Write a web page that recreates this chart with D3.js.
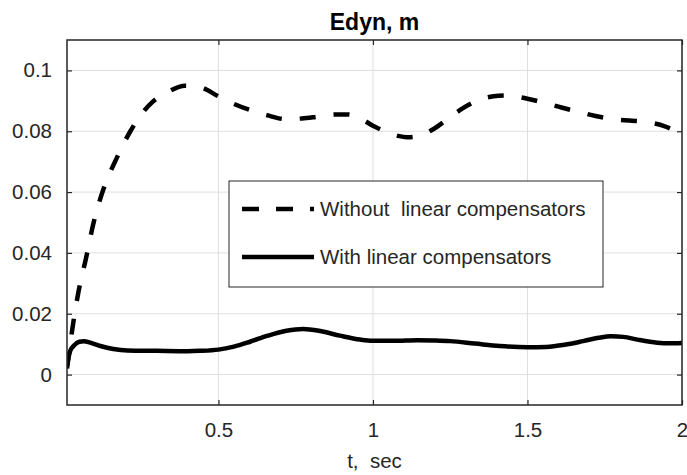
<!DOCTYPE html>
<html>
<head>
<meta charset="utf-8">
<script src="https://cdn.jsdelivr.net/npm/d3@7"></script>
<style>
  html, body { margin: 0; padding: 0; background: #fff; }
  svg { display: block; font-family: "Liberation Sans", Arial, sans-serif; }
</style>
</head>
<body>
<script>
// data
const tWithout = [0.01, 0.029, 0.048, 0.071, 0.095, 0.128, 0.17, 0.215, 0.25, 0.286, 0.33, 0.392, 0.44, 0.5, 0.55, 0.602, 0.66, 0.716, 0.77, 0.822, 0.88, 0.92, 0.96, 1.0, 1.033, 1.08, 1.11, 1.145, 1.2, 1.239, 1.29, 1.336, 1.39, 1.43, 1.449, 1.5, 1.556, 1.61, 1.669, 1.72, 1.776, 1.83, 1.889, 1.94, 2.0];
const eWithout = [0.002, 0.0162, 0.0277, 0.038, 0.0495, 0.061, 0.071, 0.080, 0.0855, 0.0896, 0.0925, 0.095, 0.0945, 0.0915, 0.089, 0.087, 0.0852, 0.084, 0.0842, 0.0848, 0.0855, 0.0855, 0.0842, 0.0818, 0.0802, 0.0785, 0.078, 0.0783, 0.081, 0.0838, 0.0875, 0.09, 0.0915, 0.0918, 0.0916, 0.0907, 0.0893, 0.0878, 0.0863, 0.085, 0.084, 0.0835, 0.083, 0.0818, 0.079];

const tWith = [0.01, 0.02, 0.035, 0.05, 0.065, 0.085, 0.118, 0.16, 0.205, 0.3, 0.4, 0.44, 0.5, 0.55, 0.602, 0.66, 0.72, 0.774, 0.83, 0.893, 0.958, 1.0, 1.07, 1.142, 1.2, 1.25, 1.33, 1.41, 1.5, 1.56, 1.62, 1.68, 1.73, 1.77, 1.81, 1.86, 1.92, 1.96, 2.0];
const eWith = [0.0028, 0.0077, 0.0098, 0.0108, 0.011, 0.0105, 0.0094, 0.0084, 0.0079, 0.0078, 0.0077, 0.0078, 0.0082, 0.0092, 0.0108, 0.0128, 0.0144, 0.015, 0.0143, 0.0128, 0.0115, 0.0111, 0.0111, 0.0113, 0.0112, 0.011, 0.0102, 0.0094, 0.009, 0.0091, 0.0098, 0.011, 0.0121, 0.0126, 0.0124, 0.0114, 0.0105, 0.0103, 0.0104];

const xTicks = [0.5, 1, 1.5, 2];
const yTicks = [0, 0.02, 0.04, 0.06, 0.08, 0.1];
const legendLabels = ['Without  linear compensators', 'With linear compensators'];

const width = 687;
const height = 475;
const plotLeft = 67, plotRight = 682, plotTop = 40, plotBottom = 405;

const svg = d3.select('body').append('svg')
    .attr('width', width)
    .attr('height', height);

const xScale = d3.scaleLinear().domain([0.01, 2]).range([plotLeft, plotRight]);
const yScale = d3.scaleLinear().domain([-0.01, 0.11]).range([plotBottom, plotTop]);

// Grid
const grid = svg.append('g').classed('grid', true);
grid.selectAll('line.gx')
    .data(xTicks)
    .enter()
    .append('line')
    .attr('x1', d => xScale(d)).attr('x2', d => xScale(d))
    .attr('y1', plotTop).attr('y2', plotBottom)
    .attr('stroke', '#dfdfdf').attr('stroke-width', 1);
grid.selectAll('line.gy')
    .data(yTicks)
    .enter()
    .append('line')
    .attr('x1', plotLeft).attr('x2', plotRight)
    .attr('y1', d => yScale(d)).attr('y2', d => yScale(d))
    .attr('stroke', '#dfdfdf').attr('stroke-width', 1);

// Lines
const toPts = (ts, es) => ts.map((t, i) => ({ t: t, e: es[i] }));
const line = d3.line()
    .x(d => xScale(d.t))
    .y(d => yScale(d.e))
    .curve(d3.curveMonotoneX);

svg.append('clipPath').attr('id', 'plotclip')
    .append('rect').attr('x', plotLeft).attr('y', plotTop)
    .attr('width', plotRight - plotLeft).attr('height', plotBottom - plotTop);

const plot = svg.append('g').attr('clip-path', 'url(#plotclip)');

plot.append('path')
    .datum(toPts(tWithout, eWithout))
    .attr('fill', 'none')
    .attr('stroke', '#000')
    .attr('stroke-width', 4.5)
    .attr('stroke-dasharray', '16 18')
    .attr('d', line);

plot.append('path')
    .datum(toPts(tWith, eWith))
    .attr('fill', 'none')
    .attr('stroke', '#000')
    .attr('stroke-width', 4.5)
    .attr('d', line);

// Axes (box with inward ticks on all sides)
const tickLen = 5;
const axisColor = '#262626';

svg.append('g')
    .attr('transform', `translate(0,${plotBottom})`)
    .call(d3.axisBottom(xScale).tickValues(xTicks).tickSizeInner(-tickLen).tickSizeOuter(0).tickPadding(17).tickFormat(d3.format('')))
    .call(g => g.select('.domain').remove());
svg.append('g')
    .attr('transform', `translate(0,${plotTop})`)
    .call(d3.axisTop(xScale).tickValues(xTicks).tickSizeInner(-tickLen).tickSizeOuter(0).tickFormat(''))
    .call(g => g.select('.domain').remove());
svg.append('g')
    .attr('transform', `translate(${plotLeft},0)`)
    .call(d3.axisLeft(yScale).tickValues(yTicks).tickSizeInner(-tickLen).tickSizeOuter(0).tickPadding(15).tickFormat(d3.format('')))
    .call(g => g.select('.domain').remove());
svg.append('g')
    .attr('transform', `translate(${plotRight},0)`)
    .call(d3.axisRight(yScale).tickValues(yTicks).tickSizeInner(-tickLen).tickSizeOuter(0).tickFormat(''))
    .call(g => g.select('.domain').remove());

svg.selectAll('.tick line').attr('stroke', axisColor).attr('stroke-width', 1.2);
svg.selectAll('.tick text')
    .attr('fill', '#262626')
    .style('font-size', '20.5px')
    .style('font-family', '"Liberation Sans", Arial, sans-serif');

svg.append('rect')
    .attr('x', plotLeft).attr('y', plotTop)
    .attr('width', plotRight - plotLeft).attr('height', plotBottom - plotTop)
    .attr('fill', 'none')
    .attr('stroke', axisColor)
    .attr('stroke-width', 1.5);

// Title and label
svg.append('text')
    .attr('x', (plotLeft + plotRight) / 2)
    .attr('y', 30)
    .attr('text-anchor', 'middle')
    .style('font-size', '23px')
    .style('font-weight', 'bold')
    .attr('fill', '#000')
    .text('Edyn, m');

svg.append('text')
    .attr('x', (plotLeft + plotRight) / 2)
    .attr('y', 468)
    .attr('text-anchor', 'middle')
    .style('font-size', '20.5px')
    .style('white-space', 'pre')
    .attr('fill', '#262626')
    .text('t,  sec');

// Legend
const legend = svg.append('g').classed('legend', true);
legend.append('rect')
    .attr('x', 229).attr('y', 181)
    .attr('width', 374).attr('height', 106)
    .attr('fill', '#fff')
    .attr('stroke', axisColor)
    .attr('stroke-width', 1);

const legRows = legend.selectAll('g.row')
    .data(legendLabels)
    .enter()
    .append('g')
    .attr('transform', (d, i) => `translate(242,${209 + i * 48})`);

legRows.append('line')
    .attr('x1', 0).attr('x2', 72)
    .attr('y1', 0).attr('y2', 0)
    .attr('stroke', '#000')
    .attr('stroke-width', 4.5)
    .attr('stroke-dasharray', (d, i) => i === 0 ? '17 17' : null);

legRows.append('text')
    .attr('x', 78)
    .attr('y', 7)
    .style('font-size', '20.5px')
    .style('white-space', 'pre')
    .attr('fill', '#262626')
    .text(d => d);
</script>
</body>
</html>
